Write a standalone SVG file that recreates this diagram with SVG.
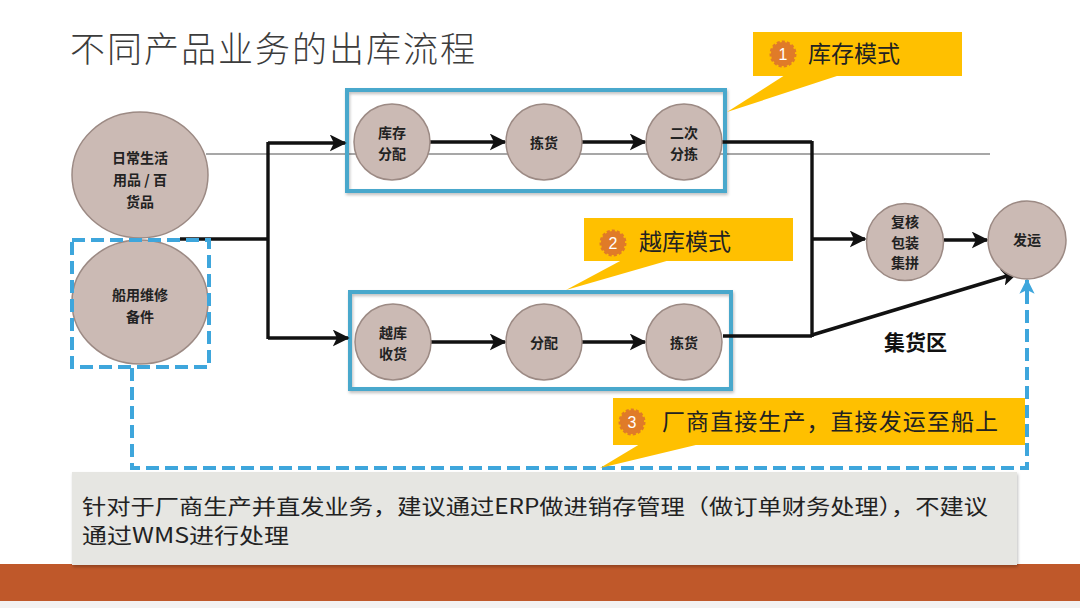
<svg xmlns="http://www.w3.org/2000/svg" width="1080" height="608" viewBox="0 0 1080 608">
<defs>
<style>
.node{fill:#cbbab4;stroke:#9c8a84;stroke-width:1.5}
.nt{font-family:"Noto Sans CJK SC","Noto Sans",sans-serif;font-size:14px;font-weight:bold;fill:#222;text-anchor:middle}
.con{stroke:#111;stroke-width:3.4;fill:none}
.box{fill:none;stroke:#4aa8cc;stroke-width:4}
.dash{fill:none;stroke:#3ea6dc;stroke-width:4;stroke-dasharray:13 6}
.call{fill:#ffc000}
.ct{font-family:"Noto Sans CJK SC","Noto Sans",sans-serif;font-size:23px;fill:#222}
.badge{fill:#e07b28;stroke:#e07b28;stroke-width:3;stroke-dasharray:3 2}
.bt{font-family:"Liberation Sans","Noto Sans",sans-serif;font-size:16px;fill:#fff;text-anchor:middle}
</style>
<marker id="ah" viewBox="0 0 10 10" refX="9" refY="5" markerWidth="5" markerHeight="5" orient="auto" markerUnits="strokeWidth">
<path d="M0,0 L10,5 L0,10 L2.5,5 Z" fill="#111"/>
</marker>
<marker id="ahb" viewBox="0 0 10 10" refX="9" refY="5" markerWidth="3.8" markerHeight="3.8" orient="auto" markerUnits="strokeWidth">
<path d="M0,0 L10,5 L0,10 L2.5,5 Z" fill="#3ea6dc"/>
</marker>
<filter id="sh" x="-5%" y="-5%" width="110%" height="120%">
<feDropShadow dx="1" dy="2" stdDeviation="1.5" flood-color="#000" flood-opacity="0.25"/>
</filter>
</defs>
<rect width="1080" height="608" fill="#fff"/>
<text x="70" y="62" font-family="Noto Sans CJK SC,sans-serif" font-size="35" font-weight="300" fill="#3c3c3c" textLength="405">不同产品业务的出库流程</text>

<!-- bottom band -->
<rect x="0" y="564" width="1080" height="37" fill="#bf582a"/>
<rect x="0" y="601" width="1080" height="7" fill="#f2f2f2"/>

<!-- thin gray line -->
<line x1="206" y1="154" x2="990" y2="154" stroke="#8a8a8a" stroke-width="1.3"/>

<!-- boxes -->
<g id="box-stock"><rect class="box" x="347" y="90" width="378" height="101" filter="url(#sh)"/></g>
<g id="box-cross"><rect class="box" x="350" y="292" width="381" height="97" filter="url(#sh)"/></g>

<g id="connectors">
<line class="con" x1="180" y1="239" x2="268" y2="239"/>
<line class="con" x1="268" y1="142" x2="268" y2="339"/>
<line class="con" x1="268" y1="143" x2="345" y2="143" marker-end="url(#ah)"/>
<line class="con" x1="268" y1="338" x2="348" y2="338" marker-end="url(#ah)"/>
<line class="con" x1="430" y1="142" x2="505" y2="142" marker-end="url(#ah)"/>
<line class="con" x1="582" y1="142" x2="645" y2="142" marker-end="url(#ah)"/>
<line class="con" x1="431" y1="342" x2="505" y2="342" marker-end="url(#ah)"/>
<line class="con" x1="582" y1="342" x2="645" y2="342" marker-end="url(#ah)"/>
<line class="con" x1="721" y1="142" x2="812" y2="142"/>
<line class="con" x1="723" y1="336" x2="812" y2="336"/>
<line class="con" x1="812" y1="141" x2="812" y2="337"/>
<line class="con" x1="812" y1="239" x2="865" y2="239" marker-end="url(#ah)"/>
<line class="con" x1="944" y1="240" x2="987" y2="240" marker-end="url(#ah)"/>
<line class="con" x1="812" y1="335" x2="1017" y2="273" marker-end="url(#ah)"/>
<polyline class="dash" points="132,368 132,468 1027,468 1027,290"/>
<line x1="1027" y1="292" x2="1027" y2="280" stroke="#3ea6dc" stroke-width="4" marker-end="url(#ahb)"/>
</g>

<g id="n-daily"><ellipse class="node" cx="140" cy="175" rx="68" ry="63"/>
<text class="nt" x="140" y="163" font-size="15">日常生活<tspan x="140" dy="22">用品 / 百</tspan><tspan x="140" dy="22">货品</tspan></text></g>
<g id="n-ship"><ellipse class="node" cx="140" cy="302" rx="68" ry="62"/>
<text class="nt" x="140" y="300" font-size="15">船用维修<tspan x="140" dy="22">备件</tspan></text></g>
<g id="dash-box"><rect class="dash" x="72" y="240" width="137" height="127"/></g>

<g id="n-alloc"><circle class="node" cx="392" cy="142" r="38"/><text class="nt" x="392" y="138">库存<tspan x="392" dy="20.5">分配</tspan></text></g>
<g id="n-pick1"><circle class="node" cx="544" cy="142" r="38"/><text class="nt" x="544" y="148">拣货</text></g>
<g id="n-sort"><circle class="node" cx="684" cy="142" r="38"/><text class="nt" x="684" y="138">二次<tspan x="684" dy="20.5">分拣</tspan></text></g>

<g id="n-xrecv"><circle class="node" cx="393" cy="342" r="38"/><text class="nt" x="393" y="338">越库<tspan x="393" dy="20.5">收货</tspan></text></g>
<g id="n-alloc2"><circle class="node" cx="544" cy="342" r="38"/><text class="nt" x="544" y="348">分配</text></g>
<g id="n-pick2"><circle class="node" cx="684" cy="342" r="38"/><text class="nt" x="684" y="348">拣货</text></g>

<g id="n-check"><circle class="node" cx="905" cy="242" r="38.5"/><text class="nt" x="905" y="227">复核<tspan x="905" dy="20.5">包装</tspan><tspan x="905" dy="20.5">集拼</tspan></text></g>
<g id="n-ship-out"><circle class="node" cx="1027" cy="240" r="39"/><text class="nt" x="1027" y="245">发运</text></g>

<g id="lbl-hub"><text x="884" y="350" font-family="Noto Sans CJK SC,sans-serif" font-size="21" font-weight="bold" fill="#111">集货区</text></g>

<g id="callout1">
<polygon class="call" points="785,75 840,75 727,112"/>
<rect class="call" x="753" y="32" width="209" height="44"/>
<circle class="badge" cx="783" cy="54" r="12"/><text class="bt" x="783" y="60">1</text>
<text class="ct" x="808" y="62">库存模式</text>
</g>
<g id="callout2">
<polygon class="call" points="622,260 670,260 566,290"/>
<rect class="call" x="584" y="218" width="209" height="43"/>
<circle class="badge" cx="613" cy="243" r="12"/><text class="bt" x="613" y="249">2</text>
<text class="ct" x="639" y="250">越库模式</text>
</g>
<g id="callout3">
<polygon class="call" points="640,444 700,444 600,468"/>
<rect class="call" x="613" y="398" width="412" height="47"/>
<circle class="badge" cx="632" cy="422" r="12"/><text class="bt" x="632" y="428">3</text>
<text class="ct" x="662" y="430" textLength="336">厂商直接生产，直接发运至船上</text>
</g>

<g id="note">
<rect x="72" y="472" width="945" height="93" fill="#e6e6e2" filter="url(#sh)"/>
<text x="82" y="514" font-family="Noto Sans CJK SC,sans-serif" font-size="21" fill="#222" textLength="906" lengthAdjust="spacingAndGlyphs">针对于厂商生产并直发业务，建议通过ERP做进销存管理（做订单财务处理），不建议</text>
<text x="82" y="543" font-family="Noto Sans CJK SC,sans-serif" font-size="21" fill="#222" textLength="207" lengthAdjust="spacingAndGlyphs">通过WMS进行处理</text>
</g>
</svg>
